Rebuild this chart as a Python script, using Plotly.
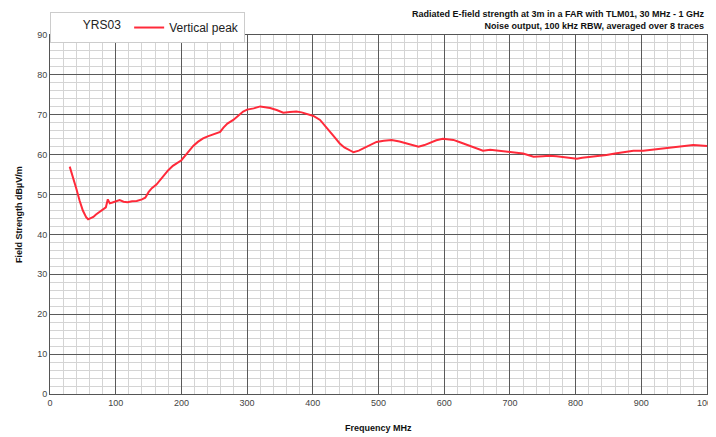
import plotly.graph_objects as go

freq_mhz = [30, 35, 40, 45, 50, 55, 58, 62, 66, 70, 75, 80, 85, 88, 91, 95, 100, 106, 112, 118,
            125, 132, 140, 145, 150, 155, 162, 170, 180, 187, 193, 200, 208, 218, 225, 233, 240,
            250, 259, 264, 270, 279, 287, 294, 300, 310, 320, 327, 335, 345, 355, 365, 375, 383,
            391, 401, 411, 419, 426, 434, 441, 448, 457, 462, 470, 477, 487, 497, 508, 520, 532,
            543, 552, 561, 570, 578, 588, 598, 606, 614, 624, 635, 646, 659, 670, 685, 700, 710,
            720, 728, 736, 750, 760, 771, 785, 795, 802, 810, 817, 830, 847, 860, 875, 888, 903,
            920, 935, 949, 965, 979, 990, 1000]
vertical_peak = [57.0, 54.5, 51.5, 48.5, 46.0, 44.3, 43.8, 44.1, 44.4, 45.0, 45.6, 46.2, 46.8,
                 48.8, 47.8, 48.0, 48.3, 48.6, 48.2, 48.1, 48.3, 48.4, 48.8, 49.2, 50.6, 51.6,
                 52.5, 54.2, 56.1, 57.2, 57.8, 58.6, 60.2, 62.2, 63.2, 64.1, 64.6, 65.2, 65.7,
                 66.8, 67.8, 68.7, 69.8, 70.8, 71.3, 71.6, 72.1, 72.0, 71.7, 71.2, 70.5, 70.7,
                 70.8, 70.6, 70.2, 69.7, 68.7, 67.3, 65.8, 64.2, 62.8, 61.8, 61.0, 60.6, 61.0,
                 61.6, 62.5, 63.2, 63.5, 63.7, 63.3, 62.8, 62.3, 62.0, 62.4, 63.0, 63.6, 64.0,
                 63.9, 63.7, 63.1, 62.4, 61.8, 61.0, 61.2, 61.0, 60.7, 60.5, 60.3, 59.8, 59.5,
                 59.6, 59.7, 59.6, 59.4, 59.2, 59.0, 59.2, 59.3, 59.6, 59.9, 60.3, 60.6, 61.0,
                 61.0, 61.3, 61.6, 61.8, 62.1, 62.4, 62.3, 62.2]

x_ticks = [0, 100, 200, 300, 400, 500, 600, 700, 800, 900, 1000]
y_ticks = [0, 10, 20, 30, 40, 50, 60, 70, 80, 90]

title_lines = ["Radiated E-field strength at 3m in a FAR with TLM01, 30 MHz - 1 GHz",
               "Noise output, 100 kHz RBW, averaged over 8 traces"]

fig = go.Figure()
fig.add_trace(go.Scatter(x=freq_mhz, y=vertical_peak, mode="lines", name="Vertical peak",
                         line=dict(color="#ff2a3a", width=2)))

axis_common = dict(showline=True, linecolor="#555555", linewidth=1, mirror=True,
                   gridcolor="#5a5a5a", gridwidth=1, ticks="", zeroline=False,
                   automargin=False, ticklabeloverflow="allow",
                   tickfont=dict(family="Arial", size=9, color="#444444"))

fig.update_xaxes(range=[0, 1000], tickvals=x_ticks, ticktext=[str(v) for v in x_ticks],
                 minor=dict(dtick=20, showgrid=True, gridcolor="#d4d4d4", gridwidth=1),
                 **axis_common)
fig.update_yaxes(range=[0, 90], tickvals=y_ticks, ticktext=[str(v) for v in y_ticks],
                 minor=dict(dtick=2, showgrid=True, gridcolor="#d4d4d4", gridwidth=1),
                 **axis_common)

# page body has an 8px margin, so the figure is 8px smaller and offset by 8px
fig.update_layout(
    width=708, height=429,
    margin=dict(l=42, r=9, t=27, b=43, autoexpand=False),
    paper_bgcolor="white", plot_bgcolor="white",
    font=dict(family="Arial", color="#222222"),
    showlegend=True,
    legend=dict(orientation="h", x=0, xanchor="left", y=1.064, yanchor="top",
                title=dict(text="         YRS03", font=dict(size=12, color="#222222")),
                font=dict(size=12, color="#222222"),
                bgcolor="white", bordercolor="#cccccc", borderwidth=1),
    annotations=[
        dict(text="<b>" + "<br>".join(title_lines) + "</b>", xref="paper", yref="paper",
             x=1, y=1.077, xanchor="right", yanchor="top", align="right", showarrow=False,
             font=dict(family="Arial", size=9, color="#111111")),
        dict(text="<b>Frequency MHz</b>", xref="paper", yref="paper", x=0.5, y=-0.075,
             xanchor="center", yanchor="top", showarrow=False,
             font=dict(family="Arial", size=9, color="#111111")),
        dict(text="<b>Field Strength dBµV/m</b>", xref="paper", yref="paper", x=-0.048, y=0.5,
             xanchor="center", yanchor="middle", textangle=-90, showarrow=False,
             font=dict(family="Arial", size=9, color="#111111")),
    ],
)

fig.write_html("out.html")
